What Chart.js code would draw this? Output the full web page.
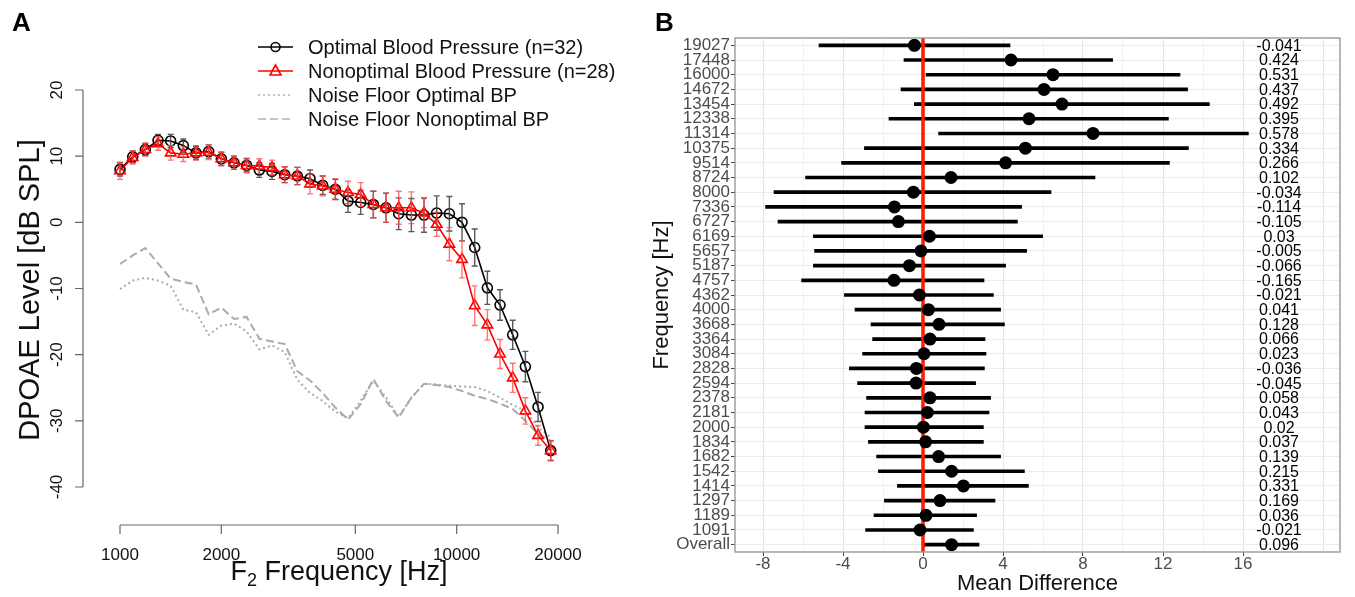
<!DOCTYPE html>
<html>
<head>
<meta charset="utf-8">
<script src="https://cdn.jsdelivr.net/npm/chart.js@4.4.1/dist/chart.umd.min.js"></script>
<style>
  body { margin: 0; background: #fff; font-family: "Liberation Sans", Arial, sans-serif; }
  #wrap { position: relative; width: 1355px; height: 597px; overflow: hidden; }
  canvas { position: absolute; top: 0; }
  #chartA { left: 0; }
  #chartB { left: 640px; }
  .tag { position: absolute; font-weight: bold; font-size: 26px; line-height: 26px; color: #000; }
  #yTitleA { position: absolute; left: -171px; top: 274px; width: 400px; height: 32px; line-height: 32px;
             text-align: center; font-size: 29px; transform: rotate(-90deg); color: #111; }
  #xTitleA { position: absolute; left: 139px; top: 556px; width: 400px; height: 30px; line-height: 30px;
             text-align: center; font-size: 27px; color: #111; }
  #xTitleA sub { font-size: 18px; vertical-align: -6px; line-height: 0; }
</style>
</head>
<body>
<div id="wrap">
  <canvas id="chartA" width="640" height="597"></canvas>
  <canvas id="chartB" width="715" height="597"></canvas>
  <div class="tag" style="left:12px; top:9px;">A</div>
  <div class="tag" style="left:655px; top:9px;">B</div>
  <div id="yTitleA">DPOAE Level [dB SPL]</div>
  <div id="xTitleA">F<sub>2</sub> Frequency [Hz]</div>
</div>
<script>
// ---- Panel A data ----
const freqs = [1000, 1091, 1189, 1297, 1414, 1542, 1682, 1834, 2000, 2181, 2378, 2594, 2828, 3084, 3364,
  3668, 4000, 4362, 4757, 5187, 5657, 6169, 6727, 7336, 8000, 8724, 9514, 10375, 11314, 12338, 13454,
  14672, 16000, 17448, 19027];
const optimalLevel = [8.0, 9.9, 11.0, 12.4, 12.3, 11.6, 10.5, 10.7, 9.6, 9.0, 8.6, 7.9, 7.7, 7.2, 7.0,
  6.6, 5.6, 5.0, 3.2, 3.0, 2.7, 2.2, 1.3, 1.1, 1.1, 1.4, 1.3, 0.0, -3.8, -9.9, -12.5, -17.0, -21.8, -27.9, -34.5];
const optimalErr = [1.0, 0.9, 0.9, 0.9, 1.0, 1.0, 1.0, 1.0, 1.0, 1.0, 1.0, 1.1, 1.2, 1.2, 1.3, 1.3, 1.4,
  1.5, 1.7, 1.8, 2.0, 2.2, 2.4, 2.5, 2.6, 2.6, 2.6, 2.8, 2.8, 2.5, 2.3, 2.2, 2.3, 2.2, 1.5];
const nonoptimalLevel = [7.8, 9.8, 11.0, 11.9, 10.5, 10.3, 10.5, 10.6, 9.6, 9.0, 8.6, 8.5, 8.3, 7.2, 7.0,
  5.8, 5.5, 5.0, 4.5, 4.2, 2.7, 2.2, 2.2, 2.2, 1.4, -0.3, -3.3, -5.6, -12.6, -15.5, -19.9, -23.5, -28.5, -32.2, -34.5];
const nonoptimalErr = [1.3, 1.0, 1.0, 1.0, 1.1, 1.1, 1.1, 1.1, 1.0, 1.0, 1.1, 1.1, 1.1, 1.2, 1.3, 1.5, 1.5,
  1.6, 1.7, 1.8, 2.0, 2.2, 2.5, 2.4, 2.2, 1.8, 2.5, 2.8, 3.0, 2.3, 2.2, 2.2, 2.0, 1.5, 1.5];
const noiseOptimal = [-10.1, -8.8, -8.4, -8.8, -9.6, -13.2, -13.6, -17.0, -15.6, -15.3, -16.5, -19.2, -18.6,
  -19.6, -23.8, -25.8, -27.0, -28.6, -29.6, -27.0, -23.9, -26.5, -29.4, -26.5, -24.4, -24.5, -24.7, -24.8,
  -24.9, -25.5, -26.5, -27.6, -28.5, -31.0, -32.5];
const noiseNonoptimal = [-6.3, -5.0, -3.9, -6.2, -8.5, -9.0, -9.4, -13.9, -12.9, -14.6, -14.3, -17.6, -18.0,
  -18.4, -22.5, -23.9, -25.8, -28.0, -29.8, -27.5, -23.7, -27.0, -29.5, -26.5, -24.4, -24.6, -24.9, -25.5,
  -26.2, -26.7, -27.4, -28.2, -30.0, -32.0, -33.0];
const xTickVals = [1000, 2000, 5000, 10000, 20000];
const yTickVals = [20, 10, 0, -10, -20, -30, -40];

// ---- Panel B data ----
const rowLabels = ['19027', '17448', '16000', '14672', '13454', '12338', '11314', '10375', '9514', '8724',
  '8000', '7336', '6727', '6169', '5657', '5187', '4757', '4362', '4000', '3668', '3364', '3084', '2828',
  '2594', '2378', '2181', '2000', '1834', '1682', '1542', '1414', '1297', '1189', '1091', 'Overall'];
const meanDiff = [-0.43, 4.4, 6.5, 6.05, 6.95, 5.3, 8.5, 5.12, 4.13, 1.4, -0.48, -1.43, -1.23, 0.32, -0.1,
  -0.68, -1.45, -0.18, 0.27, 0.8, 0.35, 0.05, -0.33, -0.35, 0.35, 0.22, 0.02, 0.13, 0.78, 1.43, 2.02, 0.85,
  0.15, -0.15, 1.43];
const ciLow = [-5.2, -0.95, 0.15, -1.1, -0.43, -1.7, 0.78, -2.93, -4.07, -5.87, -7.45, -7.87, -7.25, -5.48,
  -5.42, -5.48, -6.07, -3.93, -3.4, -2.6, -2.52, -3.02, -3.68, -3.27, -2.82, -2.9, -2.9, -2.73, -2.32, -2.23,
  -1.28, -1.93, -2.45, -2.87, 0.05];
const ciHigh = [4.35, 9.48, 12.85, 13.23, 14.32, 12.27, 16.27, 13.27, 12.32, 8.6, 6.4, 4.93, 4.72, 5.98,
  5.18, 4.13, 3.05, 3.52, 3.88, 4.07, 3.1, 3.15, 3.07, 2.63, 3.38, 3.3, 3.02, 3.02, 3.88, 5.07, 5.27, 3.6,
  2.68, 2.52, 2.8];
const effectSizes = ['-0.041', '0.424', '0.531', '0.437', '0.492', '0.395', '0.578', '0.334', '0.266',
  '0.102', '-0.034', '-0.114', '-0.105', '0.03', '-0.005', '-0.066', '-0.165', '-0.021', '0.041', '0.128',
  '0.066', '0.023', '-0.036', '-0.045', '0.058', '0.043', '0.02', '0.037', '0.139', '0.215', '0.331',
  '0.169', '0.036', '-0.021', '0.096'];

const FONT = '"Liberation Sans", Arial, sans-serif';
const LABEL_X = 17.8; // x position of the effect size column

function toPoints(values) {
    return freqs.map((f, i) => ({ x: f, y: values[i] }));
}

// error bars for panel A, drawn after each series
const errorBars = {
    id: 'errorBars',
    afterDatasetDraw(chart, args) {
        const ds = chart.data.datasets[args.index];
        if (!ds.errs) return;
        const { ctx, scales: { x, y } } = chart;
        ctx.save();
        ctx.strokeStyle = ds.errColor;
        ctx.lineWidth = 1.4;
        ctx.beginPath();
        ds.data.forEach((p, i) => {
            const px = x.getPixelForValue(p.x);
            const top = y.getPixelForValue(p.y + ds.errs[i]);
            const bot = y.getPixelForValue(p.y - ds.errs[i]);
            ctx.moveTo(px, top); ctx.lineTo(px, bot);
            ctx.moveTo(px - 3, top); ctx.lineTo(px + 3, top);
            ctx.moveTo(px - 3, bot); ctx.lineTo(px + 3, bot);
        });
        ctx.stroke();
        ctx.restore();
    }
};

// R style detached axes + legend for panel A
const baseAxes = {
    id: 'baseAxes',
    afterDraw(chart) {
        const { ctx, chartArea: a, scales: { x, y } } = chart;
        const axisY = a.bottom + 38;
        const axisX = a.left - 37;
        ctx.save();
        ctx.strokeStyle = '#666';
        ctx.lineWidth = 1.2;
        ctx.beginPath();
        ctx.moveTo(x.getPixelForValue(xTickVals[0]), axisY);
        ctx.lineTo(x.getPixelForValue(xTickVals[xTickVals.length - 1]), axisY);
        xTickVals.forEach(v => {
            const p = x.getPixelForValue(v);
            ctx.moveTo(p, axisY); ctx.lineTo(p, axisY + 9);
        });
        ctx.moveTo(axisX, y.getPixelForValue(yTickVals[0]));
        ctx.lineTo(axisX, y.getPixelForValue(yTickVals[yTickVals.length - 1]));
        yTickVals.forEach(v => {
            const p = y.getPixelForValue(v);
            ctx.moveTo(axisX, p); ctx.lineTo(axisX - 8, p);
        });
        ctx.stroke();

        ctx.fillStyle = '#111';
        ctx.font = '17px ' + FONT;
        ctx.textAlign = 'center';
        ctx.textBaseline = 'middle';
        xTickVals.forEach(v => ctx.fillText(String(v), x.getPixelForValue(v), axisY + 30));
        yTickVals.forEach(v => {
            ctx.save();
            ctx.translate(axisX - 26, y.getPixelForValue(v));
            ctx.rotate(-Math.PI / 2);
            ctx.fillText(String(v), 0, 0);
            ctx.restore();
        });

        // legend
        ctx.font = '20px ' + FONT;
        ctx.textAlign = 'left';
        chart.data.datasets.forEach((ds, i) => {
            const ly = 47 + i * 24;
            ctx.save();
            ctx.strokeStyle = ds.legendColor || ds.borderColor;
            ctx.lineWidth = ds.borderWidth;
            ctx.setLineDash(ds.borderDash || []);
            ctx.beginPath();
            ctx.moveTo(258, ly); ctx.lineTo(293, ly);
            ctx.stroke();
            ctx.setLineDash([]);
            if (ds.pointStyle === 'circle') {
                ctx.beginPath();
                ctx.arc(275.5, ly, 4.5, 0, Math.PI * 2);
                ctx.stroke();
            } else if (ds.pointStyle === 'triangle') {
                ctx.beginPath();
                ctx.moveTo(275.5, ly - 6);
                ctx.lineTo(281, ly + 4);
                ctx.lineTo(270, ly + 4);
                ctx.closePath();
                ctx.stroke();
            }
            ctx.restore();
            ctx.fillStyle = '#111';
            ctx.fillText(ds.label, 308, ly + 1);
        });
        ctx.restore();
    }
};

new Chart(document.getElementById('chartA'), {
    type: 'line',
    data: {
        datasets: [
            {
                label: 'Optimal Blood Pressure (n=32)',
                data: toPoints(optimalLevel),
                errs: optimalErr, errColor: 'rgba(60,60,60,0.85)',
                borderColor: '#000', borderWidth: 1.6,
                pointStyle: 'circle', pointRadius: 5, pointBorderWidth: 1.6,
                pointBackgroundColor: 'rgba(0,0,0,0)', pointBorderColor: '#000',
                order: 2, clip: false
            },
            {
                label: 'Nonoptimal Blood Pressure (n=28)',
                data: toPoints(nonoptimalLevel),
                errs: nonoptimalErr, errColor: 'rgba(255,70,70,0.75)',
                borderColor: '#ff0000', borderWidth: 1.6,
                pointStyle: 'triangle', pointRadius: 6, pointBorderWidth: 1.6,
                pointBackgroundColor: 'rgba(0,0,0,0)', pointBorderColor: '#ff0000',
                order: 1, clip: false
            },
            {
                label: 'Noise Floor Optimal BP',
                data: toPoints(noiseOptimal),
                borderColor: '#ababab', legendColor: '#c4c4c4', borderWidth: 2, borderDash: [2, 3],
                pointRadius: 0, order: 4, clip: false
            },
            {
                label: 'Noise Floor Nonoptimal BP',
                data: toPoints(noiseNonoptimal),
                borderColor: '#ababab', legendColor: '#c4c4c4', borderWidth: 2, borderDash: [8, 4],
                pointRadius: 0, order: 3, clip: false
            }
        ]
    },
    options: {
        responsive: false,
        animation: false,
        events: [],
        layout: { padding: { left: 120, right: 82, top: 90, bottom: 110 } },
        plugins: { legend: { display: false }, tooltip: { enabled: false } },
        scales: {
            x: { type: 'logarithmic', min: 1000, max: 20000, display: false },
            y: { type: 'linear', min: -40, max: 20, display: false }
        }
    },
    plugins: [errorBars, baseAxes]
});

// red zero line, panel border and effect size column for panel B
const forestExtras = {
    id: 'forestExtras',
    afterDatasetDraw(chart, args) {
        if (args.index !== 0) return;
        const { ctx, chartArea: a, scales: { x } } = chart;
        const px = x.getPixelForValue(0);
        ctx.save();
        ctx.strokeStyle = '#ff1a00';
        ctx.lineWidth = 3.5;
        ctx.beginPath();
        ctx.moveTo(px, a.top); ctx.lineTo(px, a.bottom);
        ctx.stroke();
        ctx.restore();
    },
    afterDraw(chart) {
        const { ctx, chartArea: a, scales: { x, y } } = chart;
        ctx.save();
        ctx.strokeStyle = '#9a9a9a';
        ctx.lineWidth = 1.4;
        ctx.strokeRect(a.left, a.top, a.right - a.left, a.bottom - a.top);
        ctx.fillStyle = '#000';
        ctx.font = '16px ' + FONT;
        ctx.textAlign = 'center';
        ctx.textBaseline = 'middle';
        effectSizes.forEach((t, i) => ctx.fillText(t, x.getPixelForValue(LABEL_X), y.getPixelForValue(i) + 1));
        ctx.restore();
    }
};

const isMajor = v => v % 4 === 0 && v <= 16;

new Chart(document.getElementById('chartB'), {
    type: 'bar',
    data: {
        labels: rowLabels,
        datasets: [
            {
                type: 'bar',
                data: ciLow.map((lo, i) => [lo, ciHigh[i]]),
                backgroundColor: '#000',
                barThickness: 3,
                borderSkipped: false,
                order: 2
            },
            {
                type: 'line',
                data: meanDiff,
                showLine: false,
                pointRadius: 6.5,
                pointBackgroundColor: '#000',
                pointBorderWidth: 0,
                order: 1
            }
        ]
    },
    options: {
        indexAxis: 'y',
        responsive: false,
        animation: false,
        events: [],
        layout: { padding: { left: 0, right: 15, top: 38, bottom: 0 } },
        plugins: { legend: { display: false }, tooltip: { enabled: false } },
        scales: {
            x: {
                type: 'linear', min: -9.4, max: 20.85,
                afterFit: s => { s.height = 45; },
                ticks: {
                    stepSize: 2, includeBounds: false, autoSkip: false, maxRotation: 0, padding: -2,
                    color: '#4d4d4d', font: { size: 17, family: FONT },
                    callback: v => isMajor(v) ? String(v) : ''
                },
                grid: {
                    color: c => (c.tick && c.tick.value % 4 === 0) ? '#e6e6e6' : '#f2f2f2',
                    tickColor: c => (c.tick && isMajor(c.tick.value)) ? '#444' : 'rgba(0,0,0,0)',
                    tickLength: 4
                },
                border: { display: false },
                title: { display: true, text: 'Mean Difference', color: '#111',
                         font: { size: 22, family: FONT }, padding: { top: 0, bottom: 0 } }
            },
            y: {
                type: 'category',
                afterFit: s => { s.width = 95; },
                ticks: { autoSkip: false, padding: 1, color: '#4d4d4d', font: { size: 17, family: FONT } },
                grid: { offset: false, color: '#ececec', tickColor: '#444', tickLength: 4 },
                border: { display: false },
                title: { display: true, text: 'Frequency [Hz]', color: '#111',
                         font: { size: 22, family: FONT }, padding: { top: 9, bottom: 0 } }
            }
        }
    },
    plugins: [forestExtras]
});
</script>
</body>
</html>
